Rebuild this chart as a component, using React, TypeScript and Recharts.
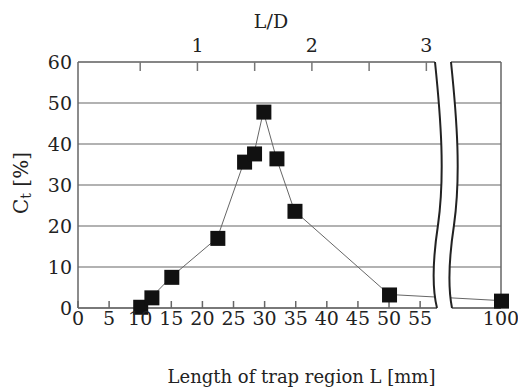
import React from "react";
import { LineChart, Line, XAxis, YAxis, CartesianGrid } from "recharts";

// trap length L [mm] and measured Ct [%]
const lengths = [10, 11.8, 15, 22.4, 26.7, 28.3, 29.8, 31.9, 34.8, 50, 100];
const ctValues = [0.3, 2.6, 7.6, 17.1, 35.7, 37.7, 47.9, 36.5, 23.7, 3.3, 1.8];

const mmTicks = [0, 5, 10, 15, 20, 25, 30, 35, 40, 45, 50, 55, 100];
const ldTicks = [0.5, 1, 1.5, 2, 2.5, 3];
const ctTicks = [0, 10, 20, 30, 40, 50, 60];

// L/D axis: L = LD * D + offset
const D_MM = 18.4;
const LD_OFFSET_MM = 0.8;

// broken axis: everything past the break is shifted left by 32 mm
const BREAK_AT = 60;
const BREAK_SHIFT = 32;
const toAxis = (mm: number) => (mm > BREAK_AT ? mm - BREAK_SHIFT : mm);
const fromAxis = (v: number) => (v > BREAK_AT ? v + BREAK_SHIFT : v);

const data = lengths.map((l, i) => ({ x: toAxis(l), ct: ctValues[i] }));
const ldPositions = ldTicks.map((ld) => ld * D_MM + LD_OFFSET_MM);

const FONT = "DejaVu Serif";
const tickStyle = { fontSize: 19, fill: "#222", fontFamily: FONT };

const Square = (props: any) => {
  const { cx, cy, index } = props;
  if (cx == null || cy == null) return null;
  return <rect key={`sq-${index}`} x={cx - 7} y={cy - 7} width={15} height={15} fill="#111" />;
};

const leftBreak = "M 435 62 C 441 120, 445 175, 438 225 C 433 258, 432 288, 437 308";
const rightBreak = "M 451 62 C 457 120, 461 175, 454 225 C 449 258, 448 288, 452 308";
const gapFill =
  "M 434 56 L 435 62 C 441 120, 445 175, 438 225 C 433 258, 432 288, 437 308 L 437 314 L 452 314 L 452 308 C 448 288, 449 258, 454 225 C 461 175, 457 120, 451 62 L 451 56 Z";

export default function App() {
  return (
    <div style={{ position: "absolute", left: 0, top: 0, width: 518, height: 389, background: "#fff" }}>
      <LineChart width={518} height={389} data={data} margin={{ top: 32, right: 16, bottom: 51, left: 0 }}>
        <CartesianGrid horizontal vertical={false} stroke="#999" strokeWidth={1.5} />
        <XAxis
          dataKey="x"
          type="number"
          domain={[0, 68]}
          ticks={mmTicks.map(toAxis)}
          tickFormatter={(v) => String(fromAxis(v))}
          interval={0}
          height={30}
          tick={tickStyle}
          tickSize={-7}
          tickMargin={11}
          stroke="#666"
          strokeWidth={1.5}
          label={{
            content: (p: any) => (
              <text
                x={p.viewBox.x + p.viewBox.width / 2 + 12}
                y={p.viewBox.y + p.viewBox.height + 45}
                textAnchor="middle"
                fontSize={18}
                fontFamily={FONT}
                fill="#222"
              >
                Length of trap region L [mm]
              </text>
            ),
          }}
        />
        <XAxis
          xAxisId="top"
          dataKey="x"
          orientation="top"
          type="number"
          domain={[0, 68]}
          allowDataOverflow
          ticks={ldPositions}
          tickFormatter={(v) => {
            const ld = Math.round(((v - LD_OFFSET_MM) / D_MM) * 10) / 10;
            return Number.isInteger(ld) ? String(ld) : "";
          }}
          interval={0}
          height={30}
          tick={tickStyle}
          tickSize={-9}
          tickMargin={19}
          stroke="#777"
          strokeWidth={1.5}
          label={{
            content: (p: any) => (
              <text x={271} y={p.viewBox.y - 4} textAnchor="middle" fontSize={19} fontFamily={FONT} fill="#222">
                L/D
              </text>
            ),
          }}
        />
        <YAxis
          type="number"
          domain={[0, 60]}
          ticks={ctTicks}
          interval={0}
          width={78}
          tick={tickStyle}
          tickLine={false}
          tickSize={0}
          tickMargin={6}
          stroke="#666"
          strokeWidth={1.5}
          label={{
            content: (p: any) => {
              const cx = p.viewBox.x + 22;
              const cy = p.viewBox.y + p.viewBox.height / 2 - 2;
              return (
                <text
                  x={cx}
                  y={cy}
                  transform={`rotate(-90, ${cx}, ${cy})`}
                  textAnchor="middle"
                  dominantBaseline="middle"
                  fontSize={20}
                  fontFamily={FONT}
                  fill="#222"
                >
                  C<tspan fontSize={14} dy={5}>t</tspan>
                  <tspan dy={-5}> [%]</tspan>
                </text>
              );
            },
          }}
        />
        <YAxis
          yAxisId="right"
          orientation="right"
          type="number"
          domain={[0, 60]}
          allowDataOverflow
          width={1}
          tick={false}
          tickLine={false}
          stroke="#666"
          strokeWidth={1.5}
        />
        <Line
          dataKey="ct"
          type="linear"
          stroke="#666"
          strokeWidth={1}
          dot={<Square />}
          activeDot={false}
          isAnimationActive={false}
        />
      </LineChart>
      <svg
        width={518}
        height={389}
        style={{ position: "absolute", left: 0, top: 0, pointerEvents: "none" }}
      >
        <path d={gapFill} fill="#fff" stroke="none" />
        <path d={leftBreak} fill="none" stroke="#222" strokeWidth={2} />
        <path d={rightBreak} fill="none" stroke="#222" strokeWidth={2} />
      </svg>
    </div>
  );
}
